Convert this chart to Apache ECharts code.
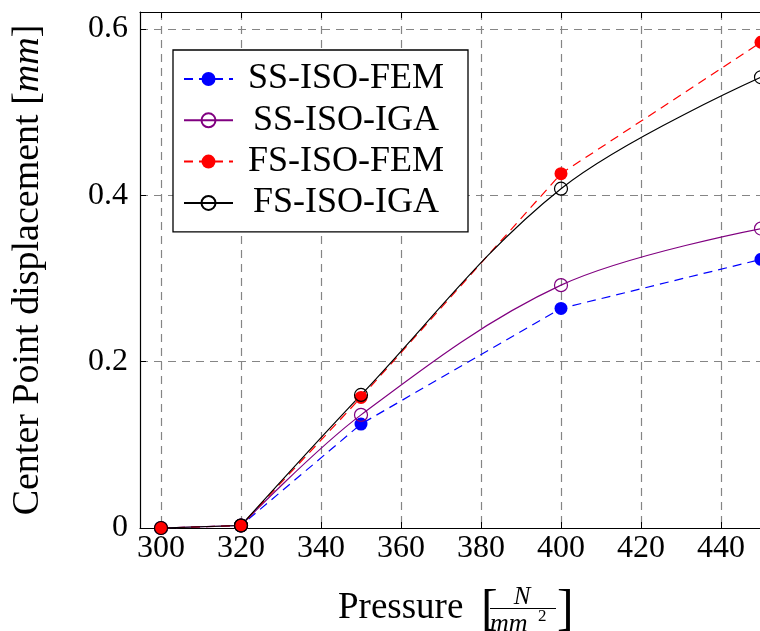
<!DOCTYPE html>
<html>
<head>
<meta charset="utf-8">
<script src="https://cdn.jsdelivr.net/npm/echarts@6/dist/echarts.min.js"></script>
<style>
html,body{margin:0;padding:0;background:#fff;}
#chart{width:760px;height:631px;}
</style>
</head>
<body>
<div id="chart"></div>
<script>
// ---- data ----
var pressure = [300, 320, 350, 400, 450];
var ssIsoFem = [0, 0.003, 0.125, 0.264, 0.323];
var ssIsoIga = [0, 0.003, 0.136, 0.292, 0.360];
var fsIsoFem = [0, 0.003, 0.157, 0.426, 0.584];
var fsIsoIga = [0, 0.003, 0.160, 0.408, 0.542];
var seriesNames = ['SS-ISO-FEM', 'SS-ISO-IGA', 'FS-ISO-FEM', 'FS-ISO-IGA'];
var xTicks = [300, 320, 340, 360, 380, 400, 420, 440];
var yTicks = [0, 0.2, 0.4, 0.6];

function pairs(xs, ys) { return xs.map(function (x, i) { return [x, ys[i]]; }); }

var FONT = 'Liberation Serif';
var chart = echarts.init(document.getElementById('chart'), null, {renderer: 'canvas'});

var xMin = 294.75, xMax = 455.25, yMin = 0, yMax = 0.6204;

function mkSeries(name, data, color, dashed, filled, smooth) {
  return {
    name: name,
    type: 'line',
    data: data,
    smooth: smooth ? 0.35 : false,
    symbol: 'circle',
    symbolSize: 13,
    lineStyle: {color: color, width: 1.2, type: dashed ? [9, 6] : 'solid'},
    itemStyle: filled ? {color: color, borderWidth: 0} :
      {color: 'rgba(255,255,255,0)', borderColor: color, borderWidth: 1.2},
    emphasis: {disabled: true},
    animation: false
  };
}

var ssIga = pairs(pressure, ssIsoIga);
var fsIga = pairs(pressure, fsIsoIga);

var option = {
  animation: false,
  grid: {left: 140, top: 12, width: 642, height: 516, outerBoundsMode: 'none', containLabel: false},
  legend: {
    left: 173, top: 50,
    orient: 'vertical',
    padding: [11, 14, 11, 10],
    itemGap: 5.3,
    itemWidth: 49,
    itemHeight: 17.5,
    borderColor: '#000',
    borderWidth: 1.3,
    backgroundColor: '#fff',
    data: seriesNames,
    formatter: function (n) { return '{t|' + n + '}'; },
    textStyle: {
      color: '#000',
      rich: {t: {width: 216, align: 'center', fontSize: 36, fontFamily: FONT, lineHeight: 36, color: '#000'}}
    }
  },
  xAxis: [{
    type: 'value', min: xMin, max: xMax, position: 'bottom',
    axisLine: {show: true, lineStyle: {color: '#000', width: 1.2}},
    axisTick: {show: true, inside: true, length: 6, customValues: xTicks, lineStyle: {color: '#000', width: 1}},
    axisLabel: {customValues: xTicks, fontSize: 32, fontFamily: FONT, color: '#000', margin: 5},
    splitLine: {show: true, lineStyle: {color: '#858585', width: 1.2, type: [8, 6]}}
  }, {
    type: 'value', min: xMin, max: xMax, position: 'top',
    axisLine: {show: true, onZero: false, lineStyle: {color: '#000', width: 1.2}},
    axisTick: {show: true, inside: true, length: 6, customValues: xTicks, lineStyle: {color: '#000', width: 1}},
    axisLabel: {show: false},
    splitLine: {show: false}
  }],
  yAxis: [{
    type: 'value', min: yMin, max: yMax, interval: 0.2,
    axisLine: {show: true, lineStyle: {color: '#000', width: 1.2}},
    axisTick: {show: true, inside: true, length: 6, lineStyle: {color: '#000', width: 1}},
    axisLabel: {fontSize: 32, fontFamily: FONT, color: '#000', margin: 12,
      formatter: function (v) { var r = Math.round(v * 10) / 10; return yTicks.indexOf(r) >= 0 ? String(r) : ''; }},
    splitLine: {show: true, lineStyle: {color: '#858585', width: 1.2, type: [8, 6]}},
    name: '{a|Center Point displacement [}{b|mm}{a|]}',
    nameLocation: 'middle',
    nameGap: 93,
    nameTextStyle: {
      rich: {
        a: {fontSize: 38, fontFamily: FONT, color: '#000'},
        b: {fontSize: 38, fontFamily: FONT, fontStyle: 'italic', color: '#000'}
      }
    }
  }],
  graphic: [
    {type: 'text', x: 338, y: 608, style: {text: 'Pressure', fontSize: 37, fontFamily: FONT, fill: '#000', align: 'left', verticalAlign: 'middle'}},
    {type: 'text', x: 481, y: 611, style: {text: '[', fontSize: 50, fontFamily: FONT, fill: '#000', align: 'left', verticalAlign: 'middle'}},
    {type: 'text', x: 522, y: 597, style: {text: 'N', fontSize: 25, fontFamily: FONT, fontStyle: 'italic', fill: '#000', align: 'center', verticalAlign: 'middle'}},
    {type: 'line', shape: {x1: 490, y1: 608.5, x2: 556, y2: 608.5}, style: {stroke: '#000', lineWidth: 1.1}},
    {type: 'text', x: 490, y: 624, style: {text: 'mm', fontSize: 26, fontFamily: FONT, fontStyle: 'italic', fill: '#000', align: 'left', verticalAlign: 'middle'}},
    {type: 'text', x: 538, y: 617, style: {text: '2', fontSize: 17, fontFamily: FONT, fill: '#000', align: 'left', verticalAlign: 'middle'}},
    {type: 'text', x: 557, y: 611, style: {text: ']', fontSize: 50, fontFamily: FONT, fill: '#000', align: 'left', verticalAlign: 'middle'}}
  ],
  series: [
    mkSeries(seriesNames[0], pairs(pressure, ssIsoFem), '#0000ff', true, true, false),
    mkSeries(seriesNames[1], ssIga.slice(1), '#800080', false, false, true),
    mkSeries(seriesNames[1], ssIga.slice(0, 2), '#800080', false, false, false),
    mkSeries(seriesNames[2], pairs(pressure, fsIsoFem), '#ff0000', true, true, false),
    mkSeries(seriesNames[3], fsIga.slice(1), '#000000', false, false, true),
    mkSeries(seriesNames[3], fsIga.slice(0, 2), '#000000', false, false, false)
  ]
};
chart.setOption(option);
</script>
</body>
</html>
